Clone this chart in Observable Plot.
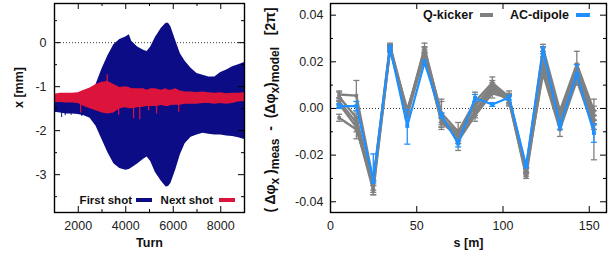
<!DOCTYPE html>
<html>
<head>
<meta charset="utf-8">
<script src="https://cdn.jsdelivr.net/npm/d3@7"></script>
<script src="https://cdn.jsdelivr.net/npm/@observablehq/plot@0.6"></script>
<style>
  html, body { margin: 0; padding: 0; background: #fff; }
  #wrap { position: relative; width: 611px; height: 256px; overflow: hidden; }
  #left, #right { position: absolute; top: 0; }
  #left { left: 0; }
  #right { left: 260px; }
  svg { display: block; }
</style>
</head>
<body>
<div id="wrap"><div id="left"></div><div id="right"></div></div>
<script>
// ---------- Left panel data (envelopes) ----------
const turns = [1000,1250,1500,1750,2000,2250,2500,2750,3000,3250,3500,3750,4000,4150,4250,4500,4750,4900,5050,5250,5500,5700,5800,5900,6100,6300,6500,6750,7000,7250,7500,7750,8000,8250,8500,8750,9000];
const firstHigh = [-1.25,-1.25,-1.25,-1.25,-1.25,-1.2,-1.15,-0.95,-0.6,-0.3,-0.05,0.07,0.13,0.18,0.03,-0.1,-0.17,-0.2,-0.1,0.12,0.33,0.44,0.44,0.36,0.05,-0.25,-0.42,-0.58,-0.7,-0.74,-0.78,-0.78,-0.68,-0.62,-0.55,-0.5,-0.45];
const firstLow = [-1.58,-1.6,-1.62,-1.62,-1.63,-1.66,-1.72,-1.9,-2.2,-2.5,-2.75,-2.86,-2.9,-2.88,-2.85,-2.76,-2.65,-2.6,-2.7,-2.95,-3.15,-3.28,-3.27,-3.2,-2.9,-2.55,-2.3,-2.15,-2.1,-2.06,-2.08,-2.1,-2.1,-2.12,-2.13,-2.16,-2.2];
const nextHigh = [-1.17,-1.15,-1.15,-1.15,-1.14,-1.08,-1.03,-0.95,-0.9,-0.88,-0.95,-1.02,-1.0,-1.02,-1.05,-1.05,-1.05,-1.08,-1.05,-1.05,-1.08,-1.05,-1.08,-1.08,-1.05,-1.1,-1.12,-1.12,-1.13,-1.12,-1.14,-1.15,-1.14,-1.16,-1.15,-1.15,-1.14];
const nextLow = [-1.36,-1.36,-1.37,-1.37,-1.38,-1.45,-1.5,-1.55,-1.6,-1.62,-1.6,-1.5,-1.48,-1.5,-1.5,-1.48,-1.47,-1.45,-1.45,-1.45,-1.43,-1.45,-1.45,-1.43,-1.42,-1.42,-1.4,-1.4,-1.4,-1.38,-1.38,-1.4,-1.38,-1.4,-1.38,-1.35,-1.34];
const firstSpikeTurns = [1300, 1450, 1700, 2150];
const firstSpikeLows = [-1.7, -1.66, -1.65, -1.68];
const nextSpikeTurns = [2100, 3220, 3700, 4330, 4590, 4960, 5300, 6230];
const nextSpikeFrom = [-1.3, -1.0, -1.45, -1.45, -1.45, -1.4, -1.4, -1.35];
const nextSpikeTo = [-1.6, -0.73, -1.65, -1.73, -1.75, -1.55, -1.62, -1.58];
const leftXTicks = [2000, 4000, 6000, 8000];
const leftXMinor = [1000, 3000, 5000, 7000, 9000];
const leftYTicks = [-3, -2, -1, 0];
const leftYMinor = [-3.5, -2.5, -1.5, -0.5, 0.5];
const leftLegend = ["First shot", "Next shot"];

// ---------- Right panel data ----------
const sPos = [5, 15, 24.8, 34.5, 44.5, 54.5, 64.3, 74, 83.8, 93.8, 103.5, 113.4, 123.2, 133, 142.8, 152.7];
const qk1 = [0.006, 0.0055, -0.031, 0.027, -0.001, 0.025, -0.002, -0.010, 0.003, 0.011, 0.005, -0.026, 0.026, -0.001, 0.019, -0.001];
const qk2 = [0.005, -0.004, -0.033, 0.026, -0.002, 0.024, -0.004, -0.011, 0.001, 0.010, 0.004, -0.027, 0.024, -0.003, 0.017, -0.003];
const qk3 = [0.003, -0.006, -0.034, 0.0255, -0.003, 0.023, -0.006, -0.012, -0.001, 0.009, 0.003, -0.028, 0.020, -0.005, 0.015, -0.005];
const qk4 = [0.002, -0.008, -0.035, 0.025, -0.0005, 0.0225, -0.005, -0.013, -0.002, 0.008, 0.0035, -0.029, 0.017, -0.007, 0.014, -0.007];
const qk5 = [-0.004, -0.009, -0.032, 0.0265, -0.002, 0.026, -0.003, -0.014, -0.003, 0.0065, 0.0045, -0.0265, 0.015, -0.009, 0.012, -0.009];
const qk1Err = [0.0015, 0.0065, 0.002, 0.001, 0.001, 0.0015, 0.006, 0.004, 0.004, 0.0025, 0.0025, 0.001, 0.0015, 0.0015, 0.0055, 0.002];
const qk2Err = [0.002, 0.002, 0.002, 0.001, 0.001, 0.002, 0.002, 0.002, 0.002, 0.002, 0.002, 0.001, 0.002, 0.002, 0.002, 0.002];
const qk3Err = [0.0015, 0.002, 0.003, 0.001, 0.001, 0.002, 0.002, 0.003, 0.002, 0.002, 0.002, 0.001, 0.002, 0.002, 0.002, 0.002];
const qk4Err = [0.0015, 0.002, 0.002, 0.001, 0.001, 0.0015, 0.002, 0.002, 0.002, 0.0015, 0.002, 0.001, 0.002, 0.002, 0.002, 0.002];
const qk5Err = [0.0015, 0.004, 0.004, 0.001, 0.001, 0.002, 0.006, 0.004, 0.0025, 0.002, 0.002, 0.001, 0.002, 0.003, 0.002, 0.013];
const ac = [0.001, 0.001, -0.031, 0.026, -0.0075, 0.0197, -0.003, -0.015, 0.0045, 0.0017, 0.0047, -0.0245, 0.025, -0.0075, 0.0148, -0.0105];
const acErrUp = [0.001, 0.002, 0.0115, 0.001, 0.007, 0.001, 0.001, 0.0015, 0.0015, 0.0008, 0.001, 0.001, 0.0015, 0.0015, 0.004, 0.004];
const acErrDown = [0.001, 0.002, 0.001, 0.001, 0.0078, 0.001, 0.001, 0.0015, 0.0015, 0.0008, 0.001, 0.001, 0.0015, 0.0015, 0.001, 0.004];
const rightXTicks = [0, 50, 100, 150];
const rightYTicks = [-0.04, -0.02, 0, 0.02, 0.04];
const rightYMinor = [-0.03, -0.01, 0.01, 0.03];
const rightLegend = ["Q-kicker", "AC-dipole"];

// ---------- Styles ----------
const BLUE = "#0c0c86", RED = "#dc143c", GRAY = "#808080", ACBLUE = "#1e90ff";
const FONT = "'Liberation Sans', Arial, Helvetica, sans-serif";
const fmtL = d => (d < 0 ? "-" : "") + Math.abs(d);
const fmtR = d => (d < 0 ? "-" : "") + Math.abs(d).toFixed(2);

// ---------- Left panel ----------
const leftData = turns.map((t, i) => ({turn: t, bHi: firstHigh[i], bLo: firstLow[i], rHi: nextHigh[i], rLo: nextLow[i]}));
const bSpikes = firstSpikeTurns.map((t, i) => ({turn: t, lo: firstSpikeLows[i], hi: -1.4}));
const rSpikes = nextSpikeTurns.map((t, i) => ({turn: t, a: nextSpikeFrom[i], b: nextSpikeTo[i]}));

const LW = 260, LH = 256, LML = 54, LMR = 16, LMT = 3, LMB = 44;
const lFH = LH - LMT - LMB, lFW = LW - LML - LMR;

function frameTicks(xMaj, xMin, yMaj, yMin, fw, fh) {
  const m = [];
  for (const [vals, len] of [[xMaj, 6], [xMin, 3]]) {
    if (!vals || !vals.length) continue;
    m.push(Plot.tickX(vals, {x: d => d, insetTop: fh - len, stroke: "#000", strokeWidth: 1}));
    m.push(Plot.tickX(vals, {x: d => d, insetBottom: fh - len, stroke: "#000", strokeWidth: 1}));
  }
  for (const [vals, len] of [[yMaj, 6], [yMin, 3]]) {
    if (!vals || !vals.length) continue;
    m.push(Plot.tickY(vals, {y: d => d, insetRight: fw - len, stroke: "#000", strokeWidth: 1}));
    m.push(Plot.tickY(vals, {y: d => d, insetLeft: fw - len, stroke: "#000", strokeWidth: 1}));
  }
  return m;
}

const left = Plot.plot({
  width: LW, height: LH, marginLeft: LML, marginRight: LMR, marginTop: LMT, marginBottom: LMB,
  style: {fontFamily: FONT, fontSize: "12.5px", color: "#222", background: "#fff", overflow: "visible"},
  x: {domain: [1000, 9000]},
  y: {domain: [-3.86, 0.89]},
  marks: [
    Plot.ruleY([0], {stroke: "#000", strokeWidth: 0.8, strokeDasharray: "1,2"}),
    Plot.areaY(leftData, {x: "turn", y1: "bLo", y2: "bHi", fill: BLUE}),
    Plot.ruleX(bSpikes, {x: "turn", y1: "lo", y2: "hi", stroke: BLUE, strokeWidth: 1}),
    Plot.areaY(leftData, {x: "turn", y1: "rLo", y2: "rHi", fill: RED}),
    Plot.ruleX(rSpikes, {x: "turn", y1: "a", y2: "b", stroke: RED, strokeWidth: 1.2}),
    ...frameTicks(leftXTicks, leftXMinor, leftYTicks, leftYMinor, lFW, lFH),
    Plot.frame({stroke: "#000", strokeWidth: 1.4}),
    Plot.axisX(leftXTicks, {anchor: "bottom", tickSize: 0, tickPadding: 9, tickFormat: d => String(d), label: null, fontSize: 12.5}),
    Plot.axisY(leftYTicks, {anchor: "left", tickSize: 0, tickPadding: 8, tickFormat: fmtL, label: null, fontSize: 12.5}),
    Plot.text(["Turn"], {frameAnchor: "bottom", dy: 34, text: d => d, fontWeight: "bold", fontSize: 12.5, fill: "#111"}),
    Plot.text(["x [mm]"], {frameAnchor: "left", dx: -36, rotate: -90, text: d => d, fontWeight: "bold", fontSize: 12.5, fill: "#111"})
  ]
});
document.getElementById("left").appendChild(left);

// left legend
{
  const svg = d3.select(left);
  const g = svg.append("g").attr("font-family", FONT).attr("font-size", 11.5).attr("font-weight", "bold").attr("fill", "#111");
  g.append("text").attr("x", 132).attr("y", 200).attr("dy", "0.35em").attr("text-anchor", "end").text(leftLegend[0]);
  g.append("rect").attr("x", 136).attr("y", 198).attr("width", 16).attr("height", 4).attr("fill", BLUE);
  g.append("text").attr("x", 213).attr("y", 200).attr("dy", "0.35em").attr("text-anchor", "end").text(leftLegend[1]);
  g.append("rect").attr("x", 219).attr("y", 198).attr("width", 16).attr("height", 4).attr("fill", RED);
}

// ---------- Right panel ----------
const qkSeries = [[qk1, qk1Err], [qk2, qk2Err], [qk3, qk3Err], [qk4, qk4Err], [qk5, qk5Err]];
const qkData = qkSeries.flatMap(([v, e], k) => sPos.map((s, i) => ({s, v: v[i], lo: v[i] - e[i], hi: v[i] + e[i], series: k})));
const acData = sPos.map((s, i) => ({s, v: ac[i], lo: ac[i] - acErrDown[i], hi: ac[i] + acErrUp[i]}));

const cap = {draw(ctx, size) { const w = Math.sqrt(size / Math.PI); ctx.moveTo(-w, 0); ctx.lineTo(w, 0); }};

const RW = 351, RH = 256, RML = 70, RMR = 5, RMT = 3, RMB = 44;
const rFH = RH - RMT - RMB, rFW = RW - RML - RMR;

const right = Plot.plot({
  width: RW, height: RH, marginLeft: RML, marginRight: RMR, marginTop: RMT, marginBottom: RMB,
  style: {fontFamily: FONT, fontSize: "12.5px", color: "#222", background: "#fff", overflow: "visible"},
  x: {domain: [0, 160]},
  y: {domain: [-0.0446, 0.045]},
  marks: [
    Plot.ruleY([0], {stroke: "#000", strokeWidth: 0.8, strokeDasharray: "1,2"}),
    Plot.ruleX(qkData, {x: "s", y1: "lo", y2: "hi", stroke: GRAY, strokeWidth: 1.3}),
    Plot.dot(qkData, {x: "s", y: "lo", symbol: cap, r: 3, stroke: GRAY, strokeWidth: 1.3}),
    Plot.dot(qkData, {x: "s", y: "hi", symbol: cap, r: 3, stroke: GRAY, strokeWidth: 1.3}),
    Plot.line(qkData, {x: "s", y: "v", z: "series", stroke: GRAY, strokeWidth: 2.4}),
    Plot.dot(qkData, {x: "s", y: "v", symbol: "square", r: 2, fill: GRAY}),
    Plot.ruleX(acData, {x: "s", y1: "lo", y2: "hi", stroke: ACBLUE, strokeWidth: 1.3}),
    Plot.dot(acData, {x: "s", y: "lo", symbol: cap, r: 3, stroke: ACBLUE, strokeWidth: 1.3}),
    Plot.dot(acData, {x: "s", y: "hi", symbol: cap, r: 3, stroke: ACBLUE, strokeWidth: 1.3}),
    Plot.line(acData, {x: "s", y: "v", stroke: ACBLUE, strokeWidth: 2.2}),
    Plot.dot(acData, {x: "s", y: "v", symbol: "square", r: 2.2, fill: ACBLUE}),
    ...frameTicks(rightXTicks, [], rightYTicks, rightYMinor, rFW, rFH),
    Plot.frame({stroke: "#000", strokeWidth: 1.4}),
    Plot.axisX(rightXTicks, {anchor: "bottom", tickSize: 0, tickPadding: 9, tickFormat: d => String(d), label: null, fontSize: 12.5}),
    Plot.axisY(rightYTicks, {anchor: "left", tickSize: 0, tickPadding: 7, tickFormat: fmtR, label: null, fontSize: 12.5}),
    Plot.text(["s [m]"], {frameAnchor: "bottom", dy: 34, text: d => d, fontWeight: "bold", fontSize: 12.5, fill: "#111"})
  ]
});
document.getElementById("right").appendChild(right);

{
  const svg = d3.select(right);
  // rotated y label with subscripts
  const t = svg.append("text")
    .attr("transform", "translate(15,110) rotate(-90)")
    .attr("text-anchor", "middle")
    .attr("font-family", FONT).attr("font-size", 14).attr("font-weight", "bold").attr("fill", "#111")
    .attr("style", "white-space: pre");
  const parts = [
    ["( Δφ", 0, 14], ["x", 3.5, 12], [" )", -3.5, 14], ["meas", 3.5, 12],
    ["  -  (Δφ", -3.5, 14], ["x", 3.5, 12], [")", -3.5, 14], ["model", 3.5, 12], ["   [2π]", -3.5, 14]
  ];
  for (const [txt, dy, fs] of parts) t.append("tspan").attr("dy", dy).attr("font-size", fs).text(txt);

  // legend
  const g = svg.append("g").attr("font-family", FONT).attr("font-size", 12.5).attr("font-weight", "bold").attr("fill", "#111");
  g.append("text").attr("x", 213).attr("y", 15).attr("dy", "0.35em").attr("text-anchor", "end").text(rightLegend[0]);
  g.append("rect").attr("x", 220).attr("y", 13).attr("width", 13).attr("height", 4).attr("fill", GRAY);
  g.append("text").attr("x", 309).attr("y", 15).attr("dy", "0.35em").attr("text-anchor", "end").text(rightLegend[1]);
  g.append("rect").attr("x", 316).attr("y", 13).attr("width", 14).attr("height", 4).attr("fill", ACBLUE);
}
</script>
</body>
</html>
